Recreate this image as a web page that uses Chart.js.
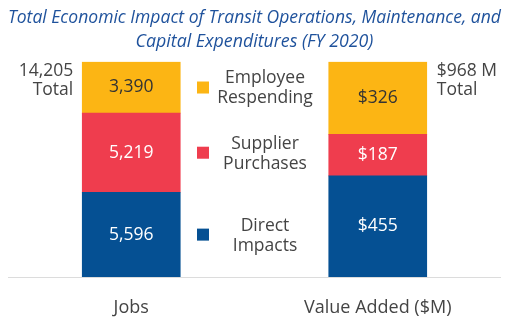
<!DOCTYPE html>
<html>
<head>
<meta charset="utf-8">
<script src="https://cdn.jsdelivr.net/npm/chart.js@4.4.0/dist/chart.umd.min.js"></script>
<style>
  html, body { margin: 0; padding: 0; background: #fff; overflow: hidden; }
  canvas { display: block; }
</style>
</head>
<body>
<canvas id="impactChart" width="521" height="323"></canvas>
<script>
// data
const categories = ['Jobs', 'Value Added ($M)'];
const seriesNames = ['Direct Impacts', 'Supplier Purchases', 'Employee Respending'];
const legendLines = [['Direct', 'Impacts'], ['Supplier', 'Purchases'], ['Employee', 'Respending']];
const jobs = [5596, 5219, 3390];
const valueAdded = [455, 187, 326];
const jobsTotal = 14205;
const valueTotal = 968;
const totalLabels = [['14,205', 'Total'], ['$968 M', 'Total']];
const colors = ['#055093', '#EF3D4E', '#FCB514'];
const labelColors = ['#ffffff', '#ffffff', '#333333'];

const FONT = '"Open Sans", Lato, sans-serif';

// one dataset per segment and bar, so each bar uses its own hidden y scale
const datasets = [];
seriesNames.forEach((name, i) => {
    datasets.push({
        label: name, yAxisID: 'yJobs', stack: 'all',
        data: [jobs[i], null],
        backgroundColor: colors[i], seriesIndex: i, fmt: 'jobs'
    });
});
seriesNames.forEach((name, i) => {
    datasets.push({
        label: name, yAxisID: 'yValue', stack: 'all',
        data: [null, valueAdded[i]],
        backgroundColor: colors[i], seriesIndex: i, fmt: 'money'
    });
});

// segment values, totals and the middle legend
const extras = {
    id: 'extras',
    beforeDatasetsDraw(chart) {
        // light baseline across the plot
        const c = chart.ctx, a = chart.chartArea;
        c.save();
        c.strokeStyle = '#dcdcdc';
        c.lineWidth = 1;
        c.beginPath();
        c.moveTo(a.left, a.bottom + 0.5);
        c.lineTo(a.right, a.bottom + 0.5);
        c.stroke();
        c.restore();
    },
    afterDatasetsDraw(chart) {
        const c = chart.ctx;
        c.save();
        c.font = '17.5px ' + FONT;
        c.textAlign = 'center';
        c.textBaseline = 'middle';
        chart.data.datasets.forEach((ds, di) => {
            const meta = chart.getDatasetMeta(di);
            meta.data.forEach((bar, k) => {
                const v = ds.data[k];
                if (v === null) return;
                const txt = ds.fmt === 'jobs' ? v.toLocaleString('en-US') : '$' + v;
                c.fillStyle = labelColors[ds.seriesIndex];
                c.fillText(txt, bar.x, (bar.y + bar.base) / 2);
            });
        });

        // totals beside the bars
        const area = chart.chartArea;
        const left = chart.getDatasetMeta(0).data[0];
        const right = chart.getDatasetMeta(3).data[1];
        c.fillStyle = '#444';
        c.textAlign = 'right';
        c.fillText(totalLabels[0][0], left.x - left.width / 2 - 9, area.top + 9);
        c.fillText(totalLabels[0][1], left.x - left.width / 2 - 9, area.top + 28);
        c.textAlign = 'left';
        c.fillText(totalLabels[1][0], right.x + right.width / 2 + 10, area.top + 9);
        c.fillText(totalLabels[1][1], right.x + right.width / 2 + 10, area.top + 28);

        // legend, lined up with the segments of the jobs bar
        const lx = 197, tx = 265;
        for (let i = 0; i < 3; i++) {
            const bar = chart.getDatasetMeta(i).data[0];
            const cy = (bar.y + bar.base) / 2;
            c.fillStyle = colors[i];
            c.fillRect(lx, cy - 6, 12, 12);
            c.fillStyle = '#444';
            c.textAlign = 'center';
            c.fillText(legendLines[i][0], tx, cy - 9);
            c.fillText(legendLines[i][1], tx, cy + 11);
        }
        c.restore();
    }
};

const ctx = document.getElementById('impactChart').getContext('2d');
new Chart(ctx, {
    type: 'bar',
    data: { labels: categories, datasets: datasets },
    options: {
        responsive: false,
        animation: false,
        layout: { padding: { left: 8, right: 20, bottom: 0 } },
        barThickness: 98,
        plugins: {
            legend: { display: false },
            tooltip: { enabled: false },
            title: {
                display: true,
                text: ['Total Economic Impact of Transit Operations, Maintenance, and',
                       'Capital Expenditures (FY 2020)'],
                color: '#1F529C',
                font: { family: FONT, size: 17.8, style: 'italic', weight: 'normal', lineHeight: 1.4 },
                padding: { top: 5, bottom: 7 }
            }
        },
        scales: {
            x: {
                stacked: true,
                grid: { display: false, drawTicks: false },
                border: { display: false },
                ticks: { color: '#444', font: { family: FONT, size: 18 }, padding: 20 },
                afterFit(scale) { scale.height = 46; }
            },
            yJobs: { stacked: true, display: false, min: 0, max: jobsTotal },
            yValue: { stacked: true, display: false, min: 0, max: valueTotal }
        }
    },
    plugins: [extras]
});
</script>
</body>
</html>
